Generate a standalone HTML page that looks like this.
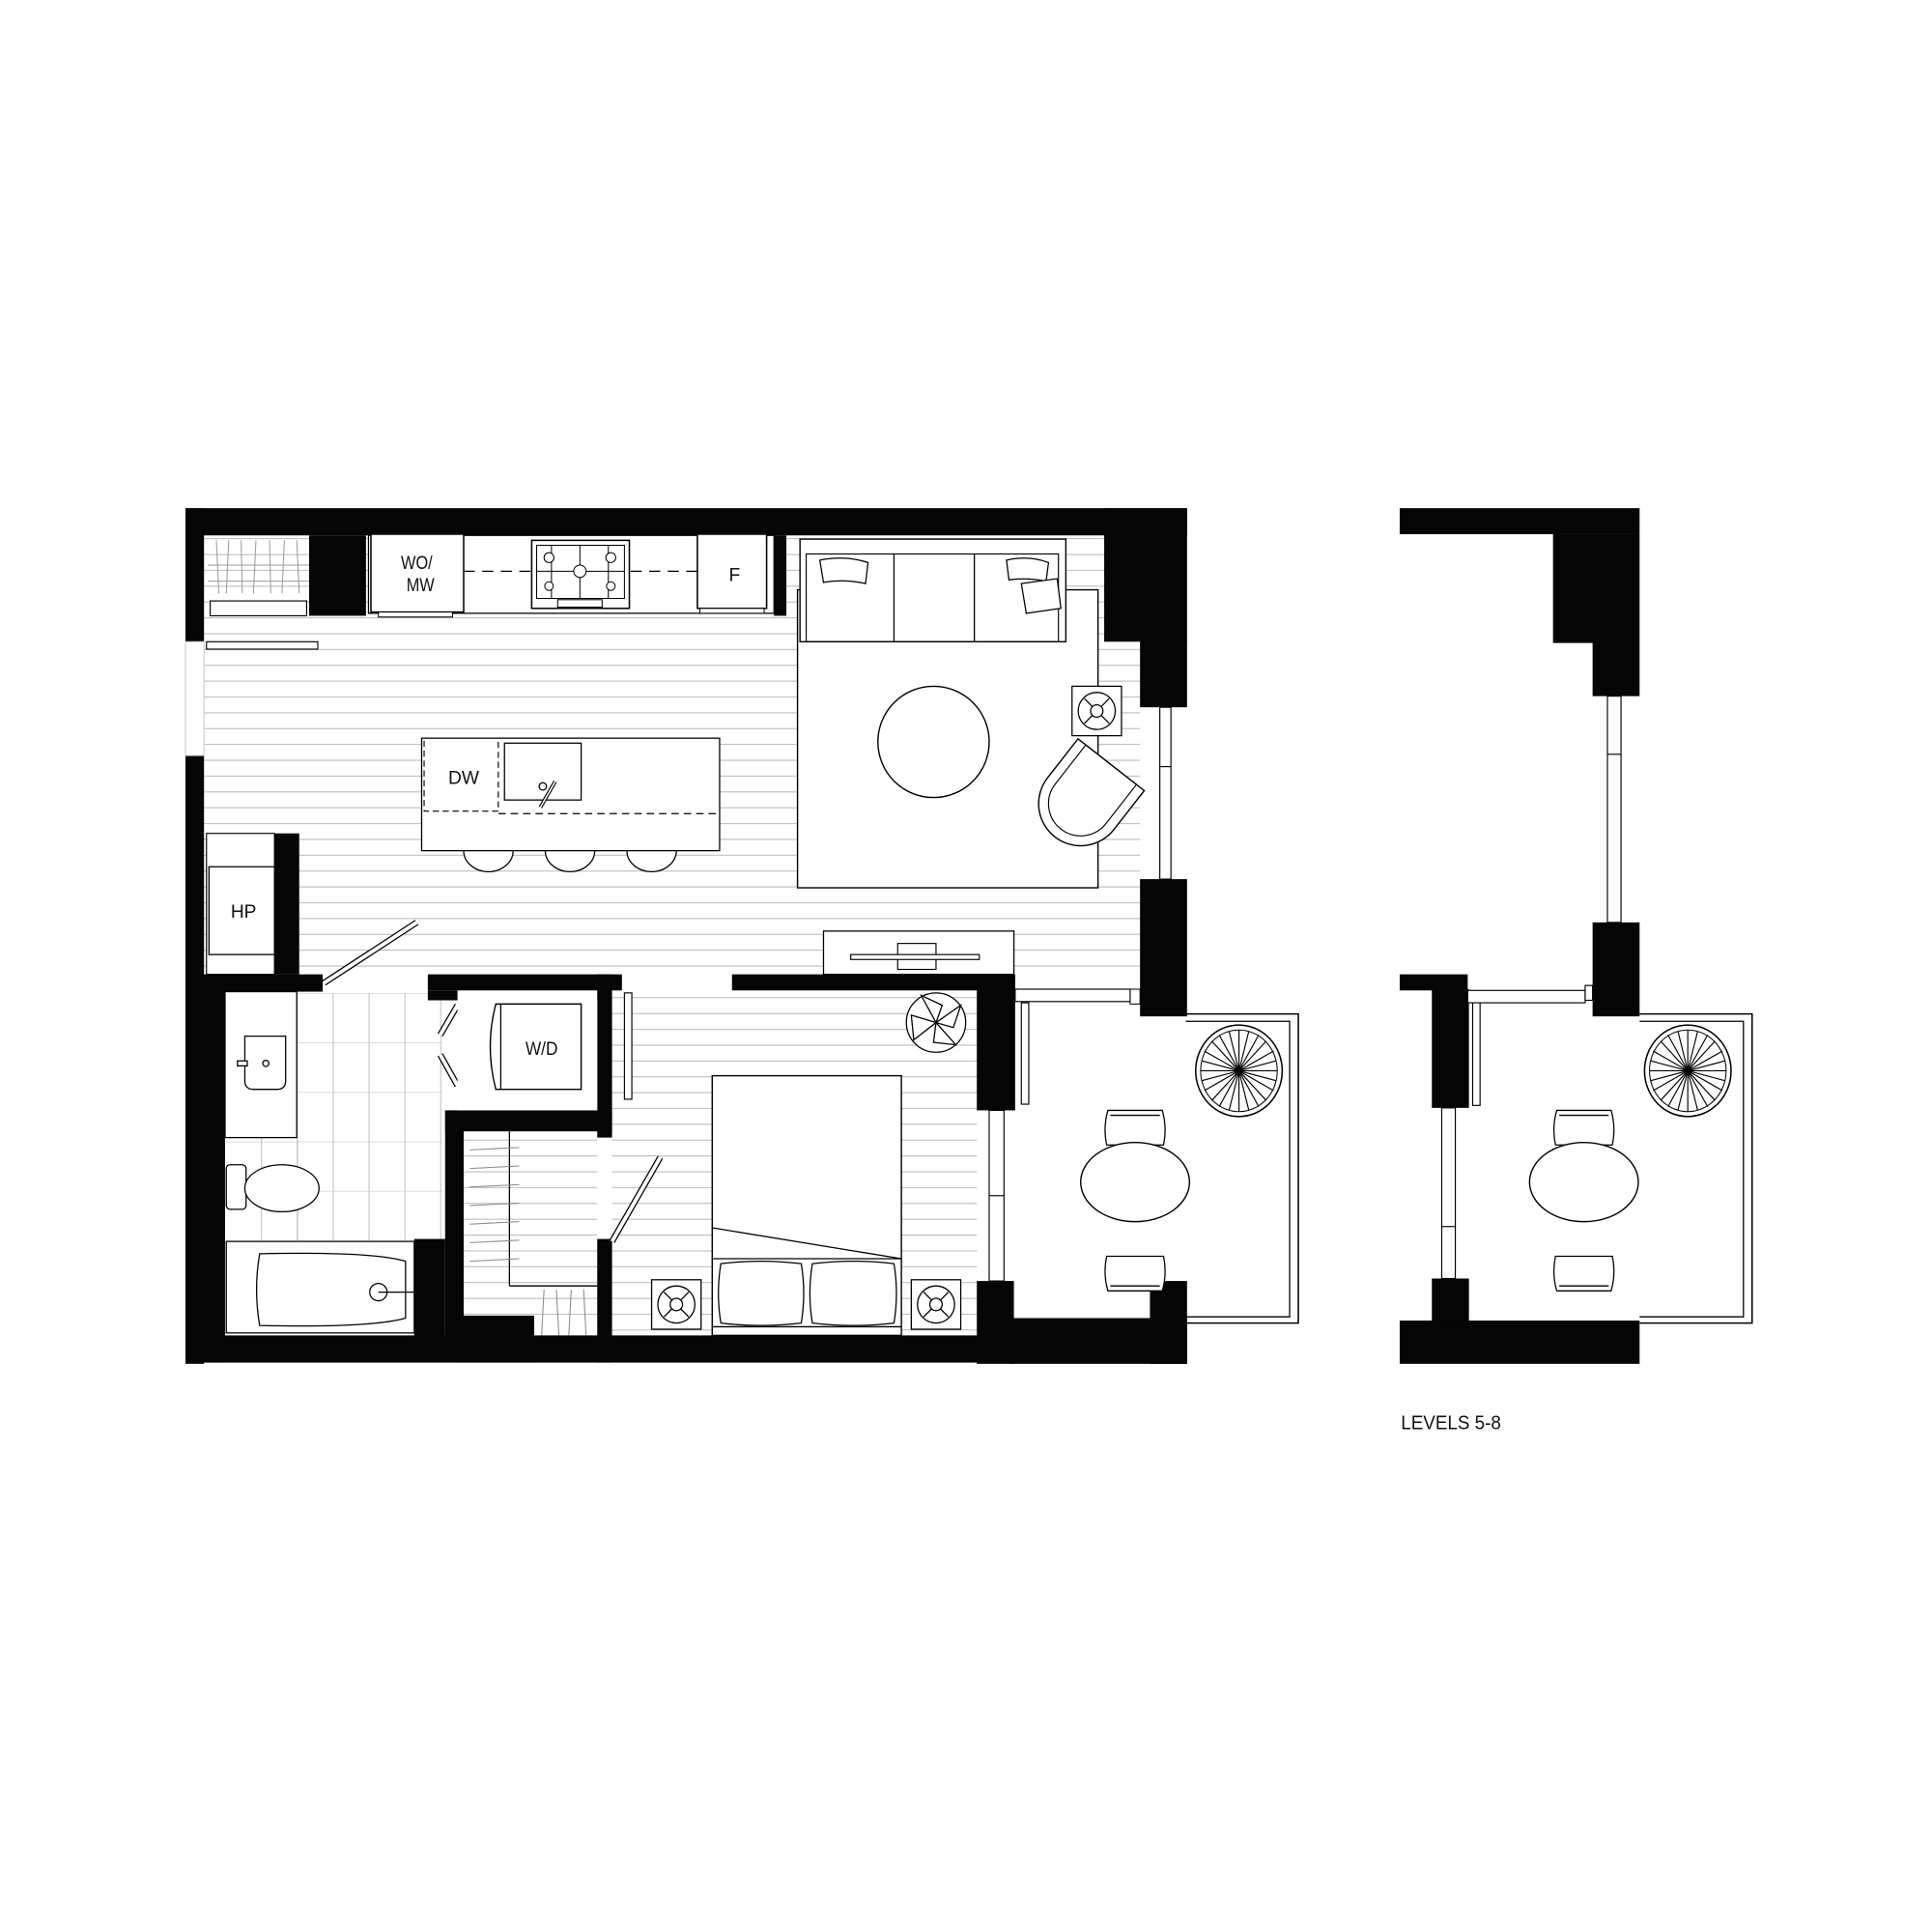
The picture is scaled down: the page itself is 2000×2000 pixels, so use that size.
<!DOCTYPE html>
<html><head><meta charset="utf-8"><style>
html,body{margin:0;padding:0;background:#fff;}
svg{display:block;}
text{font-family:"Liberation Sans",sans-serif;fill:#111;}
</style></head><body>
<svg width="2000" height="2000" viewBox="0 0 1562.5 1562.5" xmlns="http://www.w3.org/2000/svg">
<defs>
<pattern id="wood" width="20" height="12.8" patternUnits="userSpaceOnUse">
<line x1="0" y1="0.5" x2="20" y2="0.5" stroke="#b5b5b5" stroke-width="0.8"/>
</pattern>
<pattern id="tile" width="29" height="40" patternUnits="userSpaceOnUse" x="240" y="803">
<line x1="0.5" y1="0" x2="0.5" y2="40" stroke="#bdbdbd" stroke-width="0.8"/>
<line x1="0" y1="0.5" x2="29" y2="0.5" stroke="#d0d0d0" stroke-width="0.6"/>
</pattern>
<g id="fan">
<rect x="-20" y="-20" width="40" height="40" fill="#fff" stroke="#000" stroke-width="1"/>
<circle r="15" fill="none" stroke="#000" stroke-width="1"/>
<circle r="5" fill="none" stroke="#000" stroke-width="1"/>
<path d="M-10,-10L-3.5,-3.5M10,-10L3.5,-3.5M-10,10L-3.5,3.5M10,10L3.5,3.5" stroke="#000" stroke-width="1"/>
</g>
<g id="chairT">
<path d="M-23,0 Q-26,-14 -22,-28 L22,-28 Q26,-14 23,0 Z" fill="#fff" stroke="#000" stroke-width="1"/>
<path d="M-20,-24 L20,-24" stroke="#000" stroke-width="1"/>
</g>
<g id="plant">
<ellipse rx="35" ry="37" fill="#fff" stroke="#000" stroke-width="1.2"/>
<ellipse rx="31" ry="33" fill="none" stroke="#000" stroke-width="0.8"/>
<g stroke="#000" stroke-width="0.9">
<line x1="-30" y1="-8" x2="30" y2="8"/><line x1="-30" y1="8" x2="30" y2="-8"/>
<line x1="-8" y1="-32" x2="8" y2="32"/><line x1="8" y1="-32" x2="-8" y2="32"/>
<line x1="-22" y1="-24" x2="22" y2="24"/><line x1="22" y1="-24" x2="-22" y2="24"/>
<line x1="-28" y1="-16" x2="28" y2="16"/><line x1="-16" y1="-29" x2="16" y2="29"/>
<line x1="28" y1="-16" x2="-28" y2="16"/><line x1="16" y1="-29" x2="-16" y2="29"/>
<line x1="-31" y1="0" x2="31" y2="0"/><line x1="0" y1="-33" x2="0" y2="33"/>
</g>
</g>
<g id="balc">
<path d="M0,0 H91 V250 H0" fill="none" stroke="#000" stroke-width="1.2"/>
<path d="M0,6 H84 V245 H0" fill="none" stroke="#000" stroke-width="1"/>
</g>
</defs>

<rect x="165" y="433" width="757" height="357" fill="url(#wood)"/>
<rect x="495" y="800" width="295" height="282" fill="url(#wood)"/>
<rect x="375" y="915" width="108" height="150" fill="url(#wood)"/>
<rect x="240" y="803" width="118" height="200" fill="url(#tile)"/>
<rect x="183" y="919" width="60" height="84" fill="url(#tile)"/>

<g fill="#050505">
<rect x="150" y="411" width="810" height="22"/>
<rect x="150" y="411" width="15" height="108"/>
<rect x="150" y="611" width="15" height="492"/>
<rect x="150" y="801" width="32" height="301"/>
<rect x="250" y="433" width="46" height="65"/>
<rect x="626" y="433" width="10" height="65"/>
<rect x="893" y="411" width="67" height="108"/>
<rect x="922" y="518" width="38" height="54"/>
<rect x="922" y="711" width="38" height="111"/>
<rect x="222" y="674" width="20" height="114"/>
<rect x="150" y="788" width="111" height="14"/>
<rect x="346" y="788" width="157" height="13"/>
<rect x="346" y="801" width="24" height="8"/>
<rect x="483" y="788" width="12" height="132"/>
<rect x="360" y="898" width="135" height="17"/>
<rect x="360" y="898" width="15" height="184"/>
<rect x="335" y="1002" width="25" height="80"/>
<rect x="370" y="1064" width="62" height="38"/>
<rect x="483" y="1002" width="12" height="100"/>
<rect x="592" y="788" width="229" height="13"/>
<rect x="790" y="788" width="31" height="110"/>
<rect x="790" y="1036" width="30" height="67"/>
<rect x="150" y="1080" width="810" height="22"/>
<rect x="930" y="1036" width="30" height="67"/>
<rect x="818" y="1066" width="142" height="37"/>
</g>
<rect x="914" y="800" width="8" height="12" fill="#fff" stroke="#000" stroke-width="0.8"/>

<g fill="#fff" stroke="#000" stroke-width="0.9">
<rect x="938" y="572" width="9" height="139"/><line x1="938" y1="620" x2="947" y2="620"/>
<rect x="800" y="898" width="12" height="138"/><line x1="800" y1="967" x2="812" y2="967"/>
<rect x="150" y="519" width="15" height="92" stroke="#ccc"/>
<rect x="821" y="800" width="93" height="10"/>
<rect x="826" y="811" width="6" height="82"/>
<rect x="505" y="803" width="6" height="86"/>
</g>

<rect x="167" y="519" width="90" height="6" fill="#fff" stroke="#000" stroke-width="0.9"/>
<g stroke="#999" stroke-width="0.8">
<line x1="168" y1="457" x2="250" y2="457"/>
<line x1="168" y1="470" x2="250" y2="470"/>
<line x1="175" y1="437" x2="177" y2="480"/><line x1="185" y1="437" x2="183" y2="480"/>
<line x1="195" y1="437" x2="196" y2="480"/><line x1="207" y1="437" x2="205" y2="480"/>
<line x1="218" y1="437" x2="219" y2="480"/><line x1="230" y1="437" x2="228" y2="480"/>
<line x1="240" y1="437" x2="242" y2="480"/>
</g>
<rect x="170" y="486" width="78" height="12" fill="#fff" stroke="#000" stroke-width="0.9"/>

<rect x="298" y="433" width="328" height="63" fill="#fff" stroke="#000" stroke-width="1"/>
<rect x="300" y="432" width="75" height="63" fill="#fff" stroke="#000" stroke-width="1.2"/>
<rect x="306" y="495" width="60" height="4" fill="#fff" stroke="#000" stroke-width="0.8"/>
<text x="337" y="460" font-size="15" text-anchor="middle" transform="translate(337 0) scale(0.85 1) translate(-337 0)">WO/</text>
<text x="340" y="478" font-size="15" text-anchor="middle" transform="translate(340 0) scale(0.85 1) translate(-340 0)">MW</text>
<line x1="375" y1="462" x2="564" y2="462" stroke="#000" stroke-width="1" stroke-dasharray="9 6"/>
<rect x="430" y="437" width="79" height="55" fill="#fff" stroke="#000" stroke-width="1.2"/>
<rect x="434" y="441" width="71" height="43" fill="#fff" stroke="#000" stroke-width="0.8"/>
<g stroke="#000" stroke-width="0.8" fill="#fff">
<line x1="446" y1="441" x2="446" y2="484"/><line x1="469" y1="441" x2="469" y2="484"/><line x1="492" y1="441" x2="492" y2="484"/>
<line x1="434" y1="462" x2="505" y2="462"/>
<circle cx="444" cy="451" r="4"/><circle cx="494" cy="451" r="4"/><circle cx="469" cy="462" r="5"/>
<circle cx="444" cy="474" r="3.5"/><circle cx="494" cy="474" r="3.5"/>
<rect x="451" y="485" width="36" height="6"/>
</g>
<rect x="564" y="432" width="56" height="60" fill="#fff" stroke="#000" stroke-width="1.2"/>
<rect x="566" y="492" width="52" height="4" fill="#fff" stroke="#000" stroke-width="0.8"/>
<text x="594" y="470" font-size="15" text-anchor="middle">F</text>

<g stroke="#000" stroke-width="1" fill="#fff">
<path d="M375,688 a20,17 0 0 0 40,0"/><path d="M441,688 a20,17 0 0 0 40,0"/><path d="M507,688 a20,17 0 0 0 40,0"/>
<rect x="341" y="597" width="241" height="91"/>
<rect x="408" y="601" width="62" height="46"/>
</g>
<path d="M343,599 V656 H403 V599" fill="none" stroke="#000" stroke-width="0.9" stroke-dasharray="5 3"/>
<line x1="403" y1="658" x2="581" y2="658" stroke="#000" stroke-width="0.9" stroke-dasharray="6 4"/>
<text x="375" y="634" font-size="15" text-anchor="middle">DW</text>
<circle cx="439" cy="636" r="3" fill="none" stroke="#000"/>
<line x1="437" y1="653" x2="449" y2="632" stroke="#000" stroke-width="3"/>
<line x1="437" y1="653" x2="449" y2="632" stroke="#fff" stroke-width="1.2"/>

<rect x="167" y="674" width="55" height="114" fill="#fff" stroke="#000" stroke-width="0.9"/>
<rect x="169" y="701" width="53" height="71" fill="#fff" stroke="#000" stroke-width="1"/>
<text x="197" y="742" font-size="15" text-anchor="middle">HP</text>
<line x1="262" y1="795" x2="337" y2="746" stroke="#000" stroke-width="5"/>
<line x1="262" y1="795" x2="337" y2="746" stroke="#fff" stroke-width="3"/>

<rect x="645" y="477" width="243" height="241" fill="#fff" stroke="#000" stroke-width="1.1"/>
<rect x="647" y="436" width="215" height="83" fill="#fff" stroke="#000" stroke-width="1.1"/>
<rect x="652" y="448" width="204" height="71" fill="none" stroke="#000" stroke-width="0.9"/>
<line x1="723" y1="448" x2="723" y2="519" stroke="#000"/><line x1="788" y1="448" x2="788" y2="519" stroke="#000"/>
<path d="M663,453 Q684,449 702,455 L700,472 Q683,468 666,471 Z" fill="#fff" stroke="#000"/>
<path d="M814,453 Q832,449 848,455 L846,470 Q830,467 816,469 Z" fill="#fff" stroke="#000"/>
<path d="M826,472 L855,468 L858,492 L830,496 Z" fill="#fff" stroke="#000"/>
<circle cx="755" cy="600" r="45" fill="#fff" stroke="#000" stroke-width="1.1"/>
<use href="#fan" x="887" y="575"/>
<g transform="rotate(38 874 650)">
<path d="M840,610 L908,610 L908,650 A34,34 0 0 1 840,650 Z" fill="#fff" stroke="#000" stroke-width="1.1"/>
<path d="M848,610 L900,610 L900,650 A26,26 0 0 1 848,650 Z" fill="none" stroke="#000" stroke-width="0.9"/>
</g>
<rect x="666" y="753" width="154" height="35" fill="#fff" stroke="#000" stroke-width="1"/>
<rect x="726" y="763" width="31" height="21" fill="#fff" stroke="#000" stroke-width="0.9"/>
<rect x="688" y="772" width="104" height="4" fill="#fff" stroke="#000" stroke-width="0.9"/>

<rect x="182" y="802" width="58" height="118" fill="#fff" stroke="#000" stroke-width="1"/>
<path d="M198,838 H231 V874 Q231,881 224,881 H205 Q198,881 198,874 Z" fill="#fff" stroke="#000"/>
<circle cx="215" cy="860" r="2.5" fill="none" stroke="#000"/><rect x="192" y="858" width="8" height="4" fill="#fff" stroke="#000"/>
<rect x="183" y="942" width="16" height="36" rx="3" fill="#fff" stroke="#000"/>
<ellipse cx="228" cy="961" rx="30" ry="19" fill="#fff" stroke="#000"/>
<rect x="183" y="1004" width="152" height="74" fill="#fff" stroke="#000" stroke-width="1"/>
<path d="M210,1014 Q300,1012 328,1020 V1066 Q300,1074 210,1072 Q205,1043 210,1014 Z" fill="#fff" stroke="#000"/>
<circle cx="306" cy="1045" r="7" fill="none" stroke="#000"/>
<line x1="306" y1="1045" x2="335" y2="1045" stroke="#000"/>

<g stroke="#000" stroke-width="5"><line x1="356" y1="837" x2="370" y2="813"/><line x1="356" y1="853" x2="370" y2="878"/></g>
<g stroke="#fff" stroke-width="3"><line x1="356" y1="837" x2="370" y2="813"/><line x1="356" y1="853" x2="370" y2="878"/></g>
<rect x="370" y="809" width="113" height="89" fill="#fff"/>
<path d="M401,812 H470 V881 H401 Q392,846 401,812 Z" fill="#fff" stroke="#000" stroke-width="1.1"/>
<line x1="405" y1="812" x2="405" y2="881" stroke="#000"/>
<text x="438" y="853" font-size="15" text-anchor="middle" transform="translate(438 0) scale(0.9 1) translate(-438 0)">W/D</text>

<line x1="412" y1="915" x2="412" y2="1040" stroke="#000"/>
<line x1="412" y1="1040" x2="483" y2="1040" stroke="#000"/>
<g stroke="#888" stroke-width="0.8">
<line x1="380" y1="930" x2="420" y2="928"/><line x1="380" y1="945" x2="420" y2="943"/><line x1="380" y1="960" x2="420" y2="958"/>
<line x1="380" y1="975" x2="420" y2="973"/><line x1="380" y1="990" x2="420" y2="988"/><line x1="380" y1="1005" x2="420" y2="1003"/>
<line x1="380" y1="1020" x2="420" y2="1018"/>
<line x1="440" y1="1043" x2="438" y2="1080"/><line x1="450" y1="1043" x2="452" y2="1080"/><line x1="462" y1="1043" x2="460" y2="1080"/><line x1="472" y1="1043" x2="474" y2="1080"/>
</g>
<line x1="495" y1="1004" x2="534" y2="936" stroke="#000" stroke-width="5"/>
<line x1="495" y1="1004" x2="534" y2="936" stroke="#fff" stroke-width="3"/>

<rect x="576" y="870" width="153" height="210" fill="#fff" stroke="#000" stroke-width="1.1"/>
<line x1="576" y1="993" x2="729" y2="1018" stroke="#000"/>
<line x1="576" y1="1018" x2="729" y2="1018" stroke="#000"/>
<line x1="576" y1="1073" x2="729" y2="1073" stroke="#000"/>
<path d="M583,1022 Q615,1018 648,1022 Q652,1046 648,1070 Q615,1074 583,1070 Q579,1046 583,1022 Z" fill="#fff" stroke="#000"/>
<path d="M657,1022 Q690,1018 723,1022 Q727,1046 723,1070 Q690,1074 657,1070 Q653,1046 657,1022 Z" fill="#fff" stroke="#000"/>
<use href="#fan" x="547" y="1055"/>
<use href="#fan" x="757" y="1055"/>
<g transform="translate(757 827)">
<circle r="24" fill="#fff" stroke="#000"/>
<path d="M0,0 L-12,-22 L5,-14 Z M0,0 L20,-14 L14,4 Z M0,0 L16,18 L-2,16 Z M0,0 L-18,14 L-20,-6 Z" fill="#fff" stroke="#000"/>
</g>

<use href="#balc" x="959" y="820"/>
<use href="#plant" x="1002" y="866"/>
<use href="#chairT" x="918" y="926"/>
<use href="#chairT" x="918" y="988" transform="rotate(180 918 1002)"/>
<ellipse cx="918" cy="956" rx="44" ry="32" fill="#fff" stroke="#000" stroke-width="1.1"/>

<g fill="#050505">
<rect x="1132" y="411" width="194" height="21"/>
<rect x="1256" y="432" width="70" height="88"/>
<rect x="1288" y="519" width="38" height="44"/>
<rect x="1288" y="746" width="38" height="76"/>
<rect x="1132" y="788" width="55" height="13"/>
<rect x="1158" y="800" width="30" height="96"/>
<rect x="1158" y="1034" width="30" height="36"/>
<rect x="1132" y="1068" width="194" height="35"/>
</g>
<g fill="#fff" stroke="#000" stroke-width="0.9">
<rect x="1300" y="563" width="11" height="183"/><line x1="1300" y1="610" x2="1311" y2="610"/>
<rect x="1166" y="896" width="11" height="138"/><line x1="1166" y1="992" x2="1177" y2="992"/>
<rect x="1187" y="801" width="95" height="10"/>
<rect x="1282" y="797" width="6" height="12"/>
<rect x="1191" y="811" width="6" height="83"/>
</g>
<use href="#balc" x="1326" y="820"/>
<use href="#plant" x="1365" y="866"/>
<use href="#chairT" x="1281" y="926"/>
<use href="#chairT" x="1281" y="988" transform="rotate(180 1281 1002)"/>
<ellipse cx="1281" cy="956" rx="44" ry="32" fill="#fff" stroke="#000" stroke-width="1.1"/>

<text x="1133" y="1156" font-size="16" transform="translate(1133 0) scale(0.92 1) translate(-1133 0)">LEVELS 5-8</text>
</svg>
</body></html>
